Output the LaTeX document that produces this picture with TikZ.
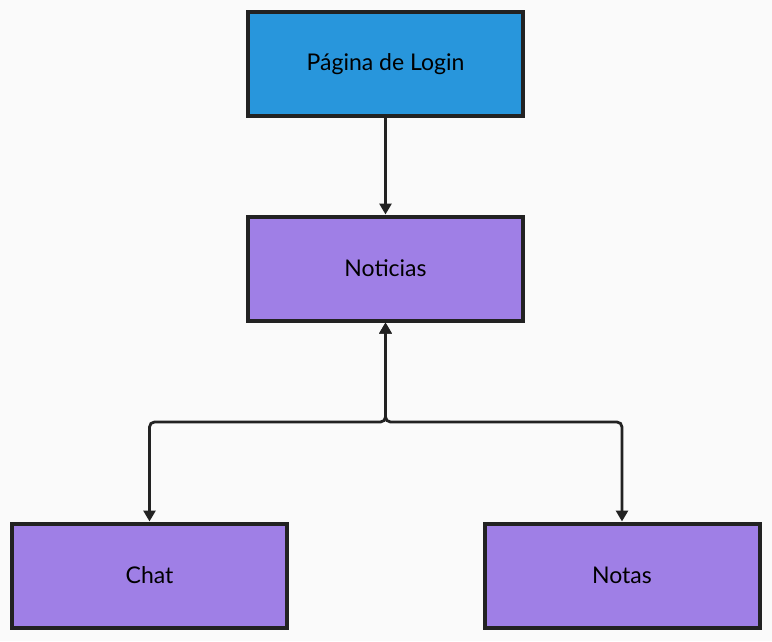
\documentclass[tikz,border=0pt]{standalone}
\usepackage{fontspec}
\setmainfont{Lato}
\usetikzlibrary{arrows.meta,positioning}
\definecolor{bgcol}{HTML}{FAFAFA}
\definecolor{loginblue}{HTML}{2896DC}
\definecolor{pagepurple}{HTML}{9F7FE6}
\definecolor{edgecol}{HTML}{222222}
\tikzset{
     page node/.style={draw=edgecol, line width=4pt, minimum width=275pt, minimum height=104pt,
                       inner sep=0pt, font=\fontsize{23}{27}\selectfont, text=black},
     login node/.style={page node, fill=loginblue},
     menu node/.style={page node, fill=pagepurple},
     navedge/.style={edgecol, line width=2.8pt, -{Triangle[length=11pt,width=12pt]}},
     navboth/.style={navedge, {Triangle[length=11pt,width=12pt]}-{Triangle[length=11pt,width=12pt]}, rounded corners=5pt},
    }

\begin{document}
\begin{tikzpicture}[x=1pt, y=-1pt, node distance=204.5pt, on grid]
        \useasboundingbox[fill=bgcol] (0,0) rectangle (772,641);
        \node [login node] (login) at (385.5,64) {Página de Login};
        \node [menu node] (news) [below=of login] {Noticias};
        \node [menu node] (chat) [below left=307pt and 236pt of news] {Chat};
        \node [menu node] (notes) [below right=307pt and 236.5pt of news] {Notas};
        \coordinate (split) at (385.5,422);
        \draw[navedge] (login) -- (news);
        \draw[navboth] (news) -- (split) -| (chat);
        \draw[navboth] (news) -- (split) -| (notes);
    \end{tikzpicture}
\end{document}
